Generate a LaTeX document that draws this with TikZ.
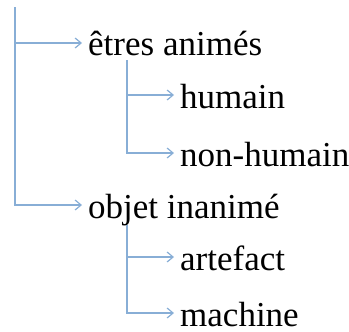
\documentclass[tikz,border=0pt]{standalone}
\usepackage{fontspec}
\setmainfont{Liberation Serif}
\usetikzlibrary{arrows.meta}
\definecolor{branch}{RGB}{136,174,214}
\tikzset{
  item/.style={anchor=west, inner sep=0pt, text height=28pt, text depth=2pt,
    font=\fontsize{35}{40}\selectfont},
  stem/.style={draw=branch, line width=1.2pt},
  link/.style={stem,
    -{Straight Barb[length=6pt, width=10pt, line width=1.2pt]}, shorten >=6pt},
}
\begin{document}
\begin{tikzpicture}[x=1pt, y=-1pt]
  \useasboundingbox (0,0) rectangle (349,332);

  % first level
  \node[item] (etres) at (88,43) {êtres animés};
  \node[item] (objet) at (88,205) {objet inanimé};
  % second level
  \node[item] (humain) at (180,95) {humain};
  \node[item] (nonhum) at (180,153) {non-humain};
  \node[item] (artef) at (180,257) {artefact};
  \node[item] (mach) at (180,313) {machine};

  % roots of the branches
  \coordinate (root) at (15,7);
  \coordinate (rootA) at (127,60);
  \coordinate (rootB) at (127,225);

  \draw[stem] (root) -- (15,205);
  \draw[link] (root) |- (etres);
  \draw[link] (root) |- (objet);

  \draw[stem] (rootA) -- (127,153);
  \draw[link] (rootA) |- (humain);
  \draw[link] (rootA) |- (nonhum);

  \draw[stem] (rootB) -- (127,313);
  \draw[link] (rootB) |- (artef);
  \draw[link] (rootB) |- (mach);
\end{tikzpicture}
\end{document}
